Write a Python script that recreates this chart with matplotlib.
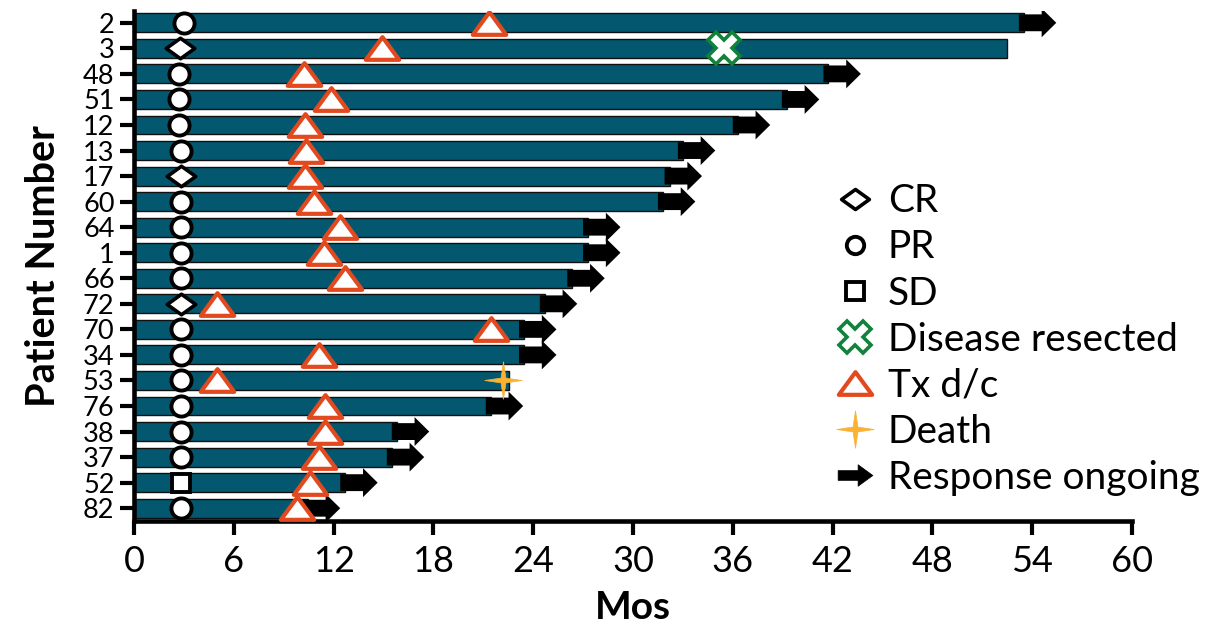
import matplotlib
matplotlib.use("Agg")
import matplotlib.pyplot as plt
import numpy as np
from matplotlib.path import Path
from matplotlib.patches import FancyArrow
from matplotlib.lines import Line2D

plt.rcParams['font.family'] = ['Lato', 'DejaVu Sans']

# Patients, listed top to bottom
patients = ['2', '3', '48', '51', '12', '13', '17', '60', '64', '1',
            '66', '72', '70', '34', '53', '76', '38', '37', '52', '82']
# Time on study (months)
duration = [53.5, 52.5, 41.75, 39.25, 36.3, 33.0, 32.2, 31.8, 27.3, 27.3,
            26.35, 24.7, 23.45, 23.45, 22.55, 21.45, 15.8, 15.5, 12.7, 10.45]
# Best response and the month it was first seen
response = ['PR', 'CR', 'PR', 'PR', 'PR', 'PR', 'CR', 'PR', 'PR', 'PR',
            'PR', 'CR', 'PR', 'PR', 'PR', 'PR', 'PR', 'PR', 'SD', 'PR']
response_time = [3.0, 2.75, 2.7, 2.7, 2.7, 2.85, 2.85, 2.85, 2.85, 2.85,
                 2.85, 2.85, 2.85, 2.85, 2.85, 2.85, 2.85, 2.85, 2.85, 2.85]
# Treatment discontinuation (months)
tx_dc = [21.35, 14.9, 10.2, 11.85, 10.3, 10.35, 10.3, 10.85, 12.4, 11.4,
         12.7, 4.97, 21.45, 11.1, 5.0, 11.5, 11.5, 11.1, 10.6, 9.8]
# Response ongoing at data cut-off
ongoing = [True, False, True, True, True, True, True, True, True, True,
           True, True, True, True, False, True, True, True, True, True]
# Other events: (patient, month)
resected = [('3', 35.5)]
deaths = [('53', 22.2)]

x_ticks = [0, 6, 12, 18, 24, 30, 36, 42, 48, 54, 60]

BAR = '#03586f'
TRI = '#e2491e'
GREEN = '#11823b'
STAR_C = '#f9b233'

# custom marker shapes
diamond = Path([(-1, 0), (0, 0.72), (1, 0), (0, -0.72), (-1, 0)],
               [Path.MOVETO, Path.LINETO, Path.LINETO, Path.LINETO, Path.CLOSEPOLY])
triangle = Path([(-1, -0.68), (1, -0.68), (0, 0.68), (-1, -0.68)],
                [Path.MOVETO, Path.LINETO, Path.LINETO, Path.CLOSEPOLY])
r = 0.13
star4 = Path([(0, 1), (r, r), (1, 0), (r, -r), (0, -1), (-r, -r), (-1, 0), (-r, r), (0, 1)],
             [Path.MOVETO] + [Path.LINETO] * 7 + [Path.CLOSEPOLY])
arrow_m = Path([(-1, -0.28), (0.15, -0.28), (0.15, -0.62), (1, 0), (0.15, 0.62),
                (0.15, 0.28), (-1, 0.28), (-1, -0.28)],
               [Path.MOVETO] + [Path.LINETO] * 6 + [Path.CLOSEPOLY])

resp_style = {
    'CR': dict(marker=diamond, ms=20.5, mew=2.6),
    'PR': dict(marker='o', ms=14.5, mew=2.8),
    'SD': dict(marker='s', ms=13.5, mew=2.8),
}
tri_style = dict(marker=triangle, ms=24, mfc='white', mec=TRI, mew=3.0, ls='none')
x_style = dict(marker='X', ms=23, mfc='white', mec=GREEN, mew=2.6, ls='none')
star_style = dict(marker=star4, ms=27, mfc=STAR_C, mec=STAR_C, mew=0.5, ls='none')

fig = plt.figure(figsize=(12.28, 6.28), dpi=100)
ax = fig.add_axes([0.1091, 0.1704, 0.8127, 0.8116])

n = len(patients)
ypos = np.arange(n)[::-1]
ymap = dict(zip(patients, ypos))

ax.barh(ypos, duration, height=0.74, color=BAR, edgecolor='#111111',
        linewidth=1.0, zorder=2)

# ongoing-response arrows at the bar ends
for y, d, on in zip(ypos, duration, ongoing):
    if on:
        ax.add_patch(FancyArrow(d - 0.3, y, 2.25, 0, width=0.66, head_width=1.13,
                                head_length=0.88, length_includes_head=True,
                                color='black', lw=0, zorder=3))

# best response markers
for y, t, resp in zip(ypos, response_time, response):
    st = resp_style[resp]
    ax.plot(t, y, marker=st['marker'], ms=st['ms'], mew=st['mew'],
            mfc='white', mec='black', ls='none', zorder=5)

ax.plot(tx_dc, ypos, zorder=5, **tri_style)
for p, t in resected:
    ax.plot(t, ymap[p], zorder=6, **x_style)
for p, t in deaths:
    ax.plot(t, ymap[p], zorder=6, **star_style)

ax.set_xlim(0, 60)
ax.set_ylim(-0.5, n - 0.55)
ax.set_xticks(x_ticks)
ax.set_xticklabels([str(v) for v in x_ticks], fontsize=26)
ax.set_yticks(ypos)
ax.set_yticklabels(patients, fontsize=19.5)
ax.tick_params(axis='both', direction='out', length=10, width=3, color='black')
ax.tick_params(axis='y', pad=4)
ax.tick_params(axis='x', pad=7)
for s in ['top', 'right']:
    ax.spines[s].set_visible(False)
for s in ['left', 'bottom']:
    ax.spines[s].set_linewidth(3.3)

ax.set_xlabel('Mos', fontsize=28, fontweight='bold', labelpad=9)
ax.set_ylabel('Patient Number', fontsize=28.5, fontweight='bold', labelpad=15)

handles = [
    Line2D([], [], marker=diamond, ms=20, mfc='white', mec='black', mew=2.6, ls='none'),
    Line2D([], [], marker='o', ms=12.5, mfc='white', mec='black', mew=2.8, ls='none'),
    Line2D([], [], marker='s', ms=12.5, mfc='white', mec='black', mew=2.8, ls='none'),
    Line2D([], [], **x_style),
    Line2D([], [], **tri_style),
    Line2D([], [], **star_style),
    Line2D([], [], marker=arrow_m, ms=25, mfc='black', mec='black', mew=0.5, ls='none'),
]
labels = ['CR', 'PR', 'SD', 'Disease resected', 'Tx d/c', 'Death', 'Response ongoing']
ax.legend(handles, labels, loc='upper left', bbox_to_anchor=(0.6828, 0.708),
          bbox_transform=fig.transFigure, frameon=False, fontsize=28,
          handlelength=0.85, handletextpad=0.42, labelspacing=0.26,
          borderpad=0, borderaxespad=0)

fig.savefig('out.png', dpi=100)
